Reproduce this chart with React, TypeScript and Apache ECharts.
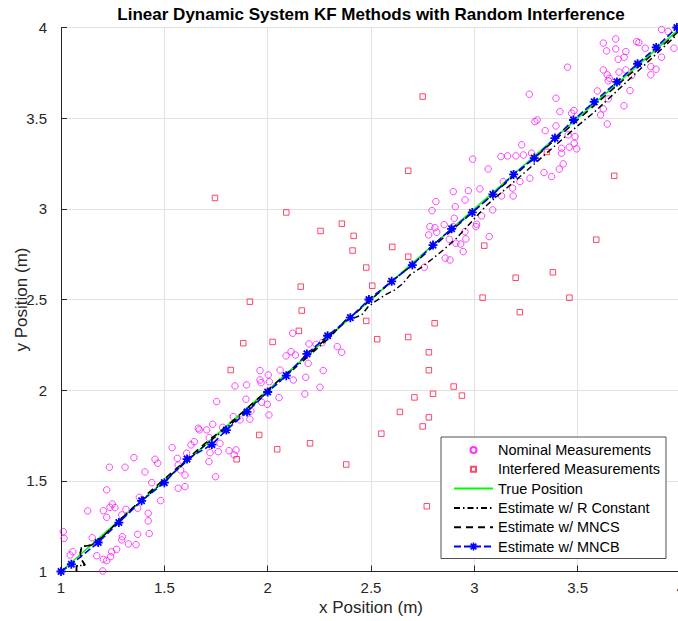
import React, { useEffect, useRef } from "react";
import * as echarts from "echarts";

const TITLE = "Linear Dynamic System KF Methods with Random Interference";
const X_NAME = "x Position (m)";
const Y_NAME = "y Position (m)";
const LEGEND_NAMES = [
  "Nominal Measurements",
  "Interfered Measurements",
  "True Position",
  "Estimate w/ R Constant",
  "Estimate w/ MNCS",
  "Estimate w/ MNCB",
];

const NOMINAL_X = [
  1.011, 1.015, 1.057, 1.044, 1.202, 1.234, 1.31, 1.353, 1.406, 1.455, 1.468, 1.221, 1.129, 1.205, 1.248, 1.237,
  1.261, 1.221, 1.294, 1.314, 1.379, 1.371, 1.422, 1.422, 1.439, 1.482, 1.427, 1.371, 1.297, 1.294, 1.326, 1.363,
  1.269, 1.245, 1.24, 1.221, 1.205, 1.151, 1.173, 1.567, 1.6, 1.6, 1.567, 1.563, 1.538, 1.579, 1.608, 1.629, 1.645,
  1.669, 1.705, 1.734, 1.717, 1.721, 1.716, 1.748, 1.761, 1.664,
  1.753, 1.834, 1.842, 1.898, 1.895, 1.919, 1.914, 1.866, 1.963, 1.963, 1.968, 2.003, 2.008, 2.06, 2.055, 1.998,
  2.006, 1.971, 2.124, 2.089, 2.113, 2.134, 2.121, 2.184, 2.196, 2.2, 2.234, 2.264, 2.269, 2.253, 2.18, 2.337,
  1.769, 1.782, 1.813, 1.838, 1.847,
  2.898, 2.814, 2.908, 2.795, 2.903, 2.785, 2.809, 2.854, 2.818, 2.779, 2.911, 2.859, 2.882, 2.758, 2.358,
  3.266, 3.395, 3.414, 3.471, 3.482, 3.293, 3.304, 3.395, 3.343, 3.229, 3.454, 3.487, 3.483, 3.422, 3.422, 3.459,
  3.495, 2.992, 3.129, 3.161, 3.201, 3.237, 3.277, 3.067, 3.337, 3.374, 3.411, 3.43, 3.269, 3.221, 3.14, 3.185,
  3.132, 3.188, 3.027, 2.971, 2.955, 3.089, 3.035, 3.011, 3.008, 2.955, 2.959, 3.072, 2.934, 2.946, 2.879, 2.898,
  3.906, 3.938, 3.966, 3.785, 3.796, 3.684, 3.624, 3.64, 3.684, 3.733, 3.725, 3.696, 3.827, 3.906, 3.854, 3.879,
  3.854, 3.733, 3.761, 3.7, 3.624, 3.643, 3.653, 3.648, 3.451, 3.595, 3.753, 3.648, 3.724, 3.624, 3.611, 3.643,
];
const NOMINAL_Y = [
  1.22, 1.183, 1.109, 1.091, 1.003, 1.575, 1.575, 1.628, 1.549, 1.619, 1.597, 1.45, 1.334, 1.335, 1.372, 1.354,
  1.352, 1.299, 1.312, 1.343, 1.409, 1.349, 1.321, 1.279, 1.49, 1.391, 1.209, 1.205, 1.192, 1.174, 1.152, 1.148,
  1.122, 1.109, 1.082, 1.06, 1.067, 1.186, 1.087, 1.459, 1.468, 1.532, 1.587, 1.624, 1.683, 1.56, 1.652, 1.698, 1.716,
  1.781, 1.781, 1.812, 1.738, 1.655, 1.606, 1.523, 1.661, 1.79,
  1.937, 1.854, 2.023, 2.029, 1.95, 1.885, 1.84, 1.836, 2.108, 2.056, 2.041, 2.084, 2.047, 2.111, 1.959, 1.922,
  1.863, 1.933, 2.056, 2.189, 2.212, 2.194, 2.314, 2.071, 2.148, 2.255, 2.253, 2.262, 2.108, 2.016, 1.979, 2.24,
  1.707, 1.795, 1.666, 1.643, 1.67,
  3.095, 3.04, 3.012, 2.99, 2.948, 2.902, 2.896, 2.913, 2.871, 2.856, 2.81, 2.728, 2.718, 2.678, 2.209,
  3.632, 3.61, 3.536, 3.527, 3.542, 3.481, 3.49, 3.457, 3.431, 3.353, 3.408, 3.398, 3.362, 3.334, 3.307, 3.34,
  3.331, 3.274, 3.288, 3.292, 3.292, 3.297, 3.307, 3.22, 3.2, 3.178, 3.219, 3.248, 3.169, 3.15, 3.15, 3.114,
  3.071, 3.071, 3.11, 3.1, 3.049, 2.994, 2.961, 2.915, 2.902, 2.874, 2.834, 2.847, 2.806, 2.764, 2.832, 2.902,
  3.989, 3.978, 3.886, 3.922, 3.917, 3.937, 3.914, 3.871, 3.882, 3.867, 3.836, 3.825, 3.886, 3.836, 3.784, 3.77,
  3.739, 3.766, 3.735, 3.754, 3.766, 3.739, 3.72, 3.706, 3.781, 3.65, 3.652, 3.606, 3.568, 3.551, 3.518, 3.468,
];

const INTERFERED_X = [
  1.914, 2.165, 2.151, 1.882, 2.024, 1.821, 1.959, 2.046, 2.205, 1.85,
  2.256, 2.359, 2.416, 2.411, 2.477, 2.603, 2.68, 2.506, 2.16, 2.477, 2.53, 2.68, 2.808, 2.78,
  2.75, 3.351, 3.048, 3.677,
  1.745, 2.09, 2.68, 2.38, 2.77, 3.04, 3.2, 3.22, 3.38, 3.46, 3.59,
  2.78, 2.8, 2.71, 2.9, 2.94, 2.78, 2.75, 2.64, 2.55,
];
const INTERFERED_Y = [
  2.488, 2.439, 2.327, 2.259, 2.266, 2.111, 1.753, 1.674, 1.707, 1.619,
  2.878, 2.918, 2.851, 2.77, 2.676, 2.79, 2.736, 2.576, 2.571, 2.382, 2.281, 2.293, 2.369, 2.209,
  3.619, 3.314, 2.797, 3.182,
  3.06, 2.98, 3.21, 1.59, 1.36, 2.51, 2.62, 2.43, 2.65, 2.51, 2.83,
  2.11, 1.98, 1.96, 2.02, 1.97, 1.85, 1.8, 1.88, 1.76,
];

const TRUE_X = [1, 4];
const TRUE_Y = [1, 4];

const RCONST_X = [
  1.075, 1.075, 1.116, 1.1, 1.093, 1.1, 1.15, 1.2, 1.3, 1.4, 1.5, 1.6, 1.7, 1.8, 1.9, 2.0, 2.1, 2.2, 2.3, 2.38,
  2.422, 2.455, 2.487, 2.519, 2.568, 2.616, 2.656, 2.688, 2.745, 2.801, 2.85, 2.914, 3.06, 3.221, 3.495, 3.583, 3.979,
];
const RCONST_Y = [
  1.0, 1.03, 1.036, 1.064, 1.1, 1.137, 1.146, 1.19, 1.3, 1.4, 1.5, 1.6, 1.7, 1.79, 1.89, 1.99, 2.09, 2.19, 2.29, 2.39,
  2.4, 2.415, 2.461, 2.488, 2.525, 2.553, 2.59, 2.635, 2.678, 2.728, 2.773, 2.838, 3.02, 3.178, 3.453, 3.536, 3.959,
];

const MNCS_X = [
  1.075, 1.075, 1.116, 1.1, 1.093, 1.1, 1.15, 1.205, 1.3, 1.4, 1.5, 1.6, 1.7, 1.8, 1.9, 2.0, 2.1, 2.2, 2.3, 2.4,
  2.5, 2.6, 2.7, 2.8, 2.9, 3.0, 3.2, 3.4, 3.6, 3.8, 4.0,
];
const MNCS_Y = [
  1.0, 1.03, 1.036, 1.064, 1.1, 1.137, 1.146, 1.196, 1.3, 1.41, 1.51, 1.61, 1.71, 1.8, 1.9, 2.0, 2.1, 2.2, 2.3, 2.4,
  2.5, 2.6, 2.69, 2.79, 2.89, 2.99, 3.19, 3.39, 3.59, 3.79, 3.99,
];

const MNCB_X = [
  1.0, 1.05, 1.18, 1.28, 1.39, 1.5, 1.61, 1.73, 1.8, 1.9, 2.0, 2.09, 2.19, 2.29, 2.4, 2.49, 2.6, 2.7, 2.8, 2.89,
  2.99, 3.09, 3.19, 3.29, 3.39, 3.48, 3.58, 3.69, 3.79, 3.88, 3.98,
];
const MNCB_Y = [
  1.0, 1.04, 1.16, 1.27, 1.39, 1.49, 1.62, 1.7, 1.78, 1.88, 1.99, 2.08, 2.2, 2.3, 2.4, 2.5, 2.6, 2.69, 2.8, 2.89,
  2.98, 3.08, 3.19, 3.28, 3.39, 3.49, 3.59, 3.7, 3.8, 3.89, 4.0,
];

const FONT = "'Liberation Sans', Arial, Helvetica, sans-serif";
const AXIS_COLOR = "#262626";
const GRID_COLOR = "#e2e2e2";

const STAR =
  "path://M-1,-5 L1,-5 L1,5 L-1,5 Z M-5,-1 L5,-1 L5,1 L-5,1 Z " +
  "M-4.25,-2.83 L-2.83,-4.25 L4.25,2.83 L2.83,4.25 Z " +
  "M-2.83,4.25 L-4.25,2.83 L2.83,-4.25 L4.25,-2.83 Z";
const LEGEND_CIRCLE = "path://M-5,-5 M5,5 M3,0 A3,3 0 1 1 -3,0 A3,3 0 1 1 3,0 Z";
const LEGEND_SQUARE = "path://M-5,-5 M5,5 M-2.5,-2.5 L2.5,-2.5 L2.5,2.5 L-2.5,2.5 Z";

const zip = (xs: number[], ys: number[]) => xs.map((x, i) => [x, ys[i]]);

export default function App() {
  const ref = useRef<HTMLDivElement>(null);
  useEffect(() => {
    const chart = echarts.init(ref.current!, null, { renderer: "svg" });
    chart.setOption({
      animation: false,
      backgroundColor: "#ffffff",
      title: {
        text: TITLE,
        left: 371,
        top: 6,
        textAlign: "center",
        padding: 0,
        textStyle: { fontSize: 17, fontWeight: "bold", color: "#000", fontFamily: FONT, lineHeight: 17 },
      },
      grid: {
        left: 61,
        right: -3,
        top: 27.5,
        bottom: 49.5,
        containLabel: false,
        outerBoundsMode: "none",
      },
      xAxis: {
        type: "value",
        min: 1,
        max: 4,
        interval: 0.5,
        name: X_NAME,
        nameLocation: "middle",
        nameGap: 27,
        nameMoveOverlap: false,
        nameTextStyle: { fontSize: 17, color: AXIS_COLOR, fontFamily: FONT },
        axisLine: { show: true, onZero: false, lineStyle: { color: AXIS_COLOR, width: 1 } },
        axisTick: { show: true, inside: true, length: 6, lineStyle: { color: AXIS_COLOR } },
        axisLabel: { fontSize: 15, color: AXIS_COLOR, margin: 8, fontFamily: FONT, formatter: (v: number) => String(v) },
        splitLine: { show: true, lineStyle: { color: GRID_COLOR, width: 1 } },
      },
      yAxis: {
        type: "value",
        min: 1,
        max: 4,
        interval: 0.5,
        name: Y_NAME,
        nameLocation: "middle",
        nameGap: 31,
        nameMoveOverlap: false,
        nameTextStyle: { fontSize: 17, color: AXIS_COLOR, fontFamily: FONT },
        axisLine: { show: true, onZero: false, lineStyle: { color: AXIS_COLOR, width: 1 } },
        axisTick: { show: true, inside: true, length: 6, lineStyle: { color: AXIS_COLOR } },
        axisLabel: { fontSize: 15, color: AXIS_COLOR, margin: 14, fontFamily: FONT, formatter: (v: number) => String(v) },
        splitLine: { show: true, lineStyle: { color: GRID_COLOR, width: 1 } },
      },
      legend: {
        orient: "vertical",
        left: 441,
        top: 437,
        padding: [5, 6, 4, 12],
        itemGap: 3.3,
        itemWidth: 39,
        itemHeight: 10,
        backgroundColor: "#ffffff",
        borderColor: AXIS_COLOR,
        borderWidth: 0.8,
        selectedMode: false,
        textStyle: { fontSize: 14.5, color: "#000", fontFamily: FONT, lineHeight: 16 },
        data: [
          { name: LEGEND_NAMES[0], icon: LEGEND_CIRCLE },
          { name: LEGEND_NAMES[1], icon: LEGEND_SQUARE },
          { name: LEGEND_NAMES[2], itemStyle: { opacity: 0 } },
          { name: LEGEND_NAMES[3], itemStyle: { opacity: 0 } },
          { name: LEGEND_NAMES[4], itemStyle: { opacity: 0 } },
          { name: LEGEND_NAMES[5] },
        ],
      },
      series: [
        {
          name: LEGEND_NAMES[0],
          type: "scatter",
          data: zip(NOMINAL_X, NOMINAL_Y),
          symbol: "circle",
          symbolSize: 6.5,
          progressive: 0,
          large: false,
          clip: false,
          itemStyle: { color: "rgba(255,255,255,0)", borderColor: "#ff00ff", borderWidth: 0.9 },
        },
        {
          name: LEGEND_NAMES[1],
          type: "scatter",
          data: zip(INTERFERED_X, INTERFERED_Y),
          symbol: "rect",
          symbolSize: 5.5,
          progressive: 0,
          large: false,
          clip: false,
          itemStyle: { color: "rgba(255,255,255,0)", borderColor: "#ff1a45", borderWidth: 1 },
        },
        {
          name: LEGEND_NAMES[2],
          type: "line",
          data: zip(TRUE_X, TRUE_Y),
          symbol: "none",
          color: "#00ff00",
          lineStyle: { color: "#00ff00", width: 1.6 },
        },
        {
          name: LEGEND_NAMES[3],
          type: "line",
          data: zip(RCONST_X, RCONST_Y),
          symbol: "none",
          color: "#000000",
          lineStyle: { color: "#000000", width: 1.5, type: [6, 3, 1.5, 3] },
        },
        {
          name: LEGEND_NAMES[4],
          type: "line",
          data: zip(MNCS_X, MNCS_Y),
          symbol: "none",
          color: "#000000",
          lineStyle: { color: "#000000", width: 1.5, type: [7, 5] },
        },
        {
          name: LEGEND_NAMES[5],
          type: "line",
          data: zip(MNCB_X, MNCB_Y),
          symbol: STAR,
          symbolSize: 9,
          showSymbol: true,
          color: "#0000ff",
          itemStyle: { color: "#0000ff" },
          lineStyle: { color: "#0000ff", width: 1.6, type: [7, 3] },
        },
      ],
    });
    return () => chart.dispose();
  }, []);
  return (
    <div
      ref={ref}
      style={{ position: "fixed", left: 0, top: 0, width: 678, height: 621, background: "#ffffff" }}
    />
  );
}
